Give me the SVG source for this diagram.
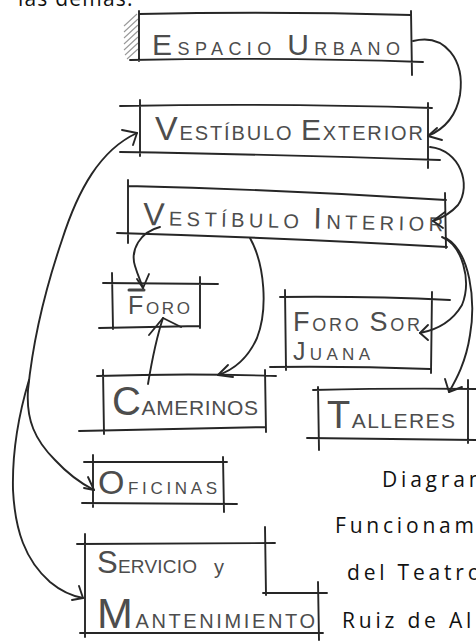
<svg xmlns="http://www.w3.org/2000/svg" width="476" height="642" viewBox="0 0 476 642">
<defs>
<style>
.ln{stroke:#262626;stroke-width:1.9;fill:none;stroke-linecap:round;stroke-linejoin:round}
.ar{stroke:#262626;stroke-width:1.9;fill:none;stroke-linecap:round;stroke-linejoin:round}
.ht{stroke:#9a9a9a;stroke-width:1.1;fill:none}
.hw{font-family:"Liberation Sans",Arial,sans-serif;fill:#4d4d4d}
.pr{font-family:"Open Sans","Noto Sans",sans-serif;font-size:21px;fill:#111111;letter-spacing:3.8px}
</style>
</defs>
<rect width="476" height="642" fill="#ffffff"/>
<text class="pr" x="18" y="6" style="letter-spacing:1.2px">las demás.</text>

<g id="espacio-urbano">
<path class="ht" d="M124,26 L137,14 M124,32 L138,19 M124,38 L138,25 M124,44 L138,31 M124,50 L138,37 M125,55 L138,43 M127,59 L138,49"/>
<path class="ln" d="M139,14 Q275,11 411,15 M130,60 Q280,57 423,62 M139,11 L139,61 M411,11 L412,75"/>
<text class="hw" x="152" y="55" textLength="248" lengthAdjust="spacing"><tspan font-size="30">E</tspan><tspan font-size="18">SPACIO </tspan><tspan font-size="30">U</tspan><tspan font-size="18">RBANO</tspan></text>
</g>

<g id="vestibulo-exterior">
<path class="ln" d="M120,106 Q280,103 432,108 M120,152 Q300,155 440,160 M140,100 L140,156 M428,103 L428,168"/>
<text class="hw" x="155" y="140" textLength="268" lengthAdjust="spacing"><tspan font-size="34">V</tspan><tspan font-size="20">ESTÍBULO </tspan><tspan font-size="30">E</tspan><tspan font-size="20">XTERIOR</tspan></text>
</g>

<g id="vestibulo-interior">
<path class="ln" d="M128,186 Q290,190 446,200 M117,233 Q290,238 447,247 M128,180 L128,243 M445,193 L446,248"/>
<text class="hw" x="143" y="225" textLength="300" lengthAdjust="spacing" transform="rotate(1.2 143 225)"><tspan font-size="32">V</tspan><tspan font-size="20">ESTÍBULO </tspan><tspan font-size="30">I</tspan><tspan font-size="20">NTERIOR</tspan></text>
</g>

<g id="foro">
<path class="ln" d="M103,283 L218,284 M112,273 L113,329 M200,277 L200,328 M99,328 L200,326"/>
<path d="M129,290 L144,290" stroke="#444" stroke-width="3" stroke-linecap="round"/>
<text class="hw" x="128" y="314" textLength="62" lengthAdjust="spacing"><tspan font-size="25">F</tspan><tspan font-size="17">ORO</tspan></text>
</g>

<g id="foro-sor-juana">
<path class="ln" d="M280,297 Q370,296 450,300 M270,367 Q350,366 430,369 M285,290 L286,370 M432,292 L431,373"/>
<text class="hw" x="293" y="331" textLength="127" lengthAdjust="spacing"><tspan font-size="27">F</tspan><tspan font-size="18">ORO </tspan><tspan font-size="27">S</tspan><tspan font-size="18">OR</tspan></text>
<text class="hw" x="293" y="360" textLength="77" lengthAdjust="spacing"><tspan font-size="25">J</tspan><tspan font-size="17">UANA</tspan></text>
</g>

<g id="camerinos">
<path class="ln" d="M97,376 Q190,373 276,376 M79,431 Q170,429 266,427 M103,370 L104,434 M265,370 L266,432"/>
<text class="hw" x="112" y="415" textLength="146" lengthAdjust="spacing"><tspan font-size="40">C</tspan><tspan font-size="21">AMERINOS</tspan></text>
</g>

<g id="talleres">
<path class="ln" d="M313,390 Q400,388 476,389 M307,438 Q400,439 476,440 M318,387 L319,450 M468,380 L468,443"/>
<text class="hw" x="327" y="428" textLength="128" lengthAdjust="spacing"><tspan font-size="38">T</tspan><tspan font-size="21">ALLERES</tspan></text>
</g>

<g id="oficinas">
<path class="ln" d="M84,462 L227,462 M82,503 L237,504 M93,455 L93,507 M223,457 L224,512"/>
<text class="hw" x="98" y="494" textLength="119" lengthAdjust="spacing"><tspan font-size="34">O</tspan><tspan font-size="17">FICINAS</tspan></text>
</g>

<g id="servicio-mantenimiento">
<path class="ln" d="M77,544 L275,543 M85,534 L85,637 M265,527 L266,595 M263,593 L327,593 M318,582 L319,640 M80,633 L323,633"/>
<text class="hw" x="97" y="573" textLength="100" lengthAdjust="spacing"><tspan font-size="31">S</tspan><tspan font-size="19">ERVICIO</tspan></text>
<text class="hw" x="214" y="574" font-size="20">y</text>
<text class="hw" x="97" y="628" textLength="218" lengthAdjust="spacing"><tspan font-size="43">M</tspan><tspan font-size="20">ANTENIMIENTO</tspan></text>
</g>

<text class="pr" x="382" y="487">Diagram</text>
<text class="pr" x="335" y="533">Funcionam</text>
<text class="pr" x="347" y="580">del Teatro</text>
<text class="pr" x="342" y="628">Ruiz de Al</text>

<g id="connectors">
<path class="ar" d="M413,41 C445,33 465,60 460,95 C456,118 442,130 428,136"/>
<path class="ar" d="M437,128 L428,136 L442,140"/>
<path class="ar" d="M430,147 C460,150 472,185 458,205 C450,214 442,218 433,221"/>
<path class="ar" d="M445,212 L433,221 L443,228"/>
<path class="ar" d="M442,237 C462,245 472,280 462,305 C452,322 436,330 420,333"/>
<path class="ar" d="M428,325 L420,333 L428,340"/>
<path class="ar" d="M446,238 C470,252 476,300 470,335 C466,362 456,380 449,392"/>
<path class="ar" d="M445,379 L449,392 L462,387"/>
<path class="ar" d="M160,227 C140,232 130,250 135,266 C138,276 141,282 143,288"/>
<path class="ar" d="M137,279 L143,288 L149,274"/>
<path class="ar" d="M250,238 C265,265 268,310 257,338 C247,360 233,370 218,375"/>
<path class="ar" d="M228,365 L218,375 L233,377"/>
<path class="ar" d="M148,384 C152,360 157,336 163,318"/>
<path class="ar" d="M149,335 L163,318 L181,327"/>
<path class="ar" d="M137,133 C100,150 78,190 62,240 C45,290 33,340 28,390 C26,420 35,440 55,460 C68,474 82,484 94,490"/>
<path class="ar" d="M122,130 L137,133 L133,145"/>
<path class="ar" d="M88,477 L94,490 L84,488"/>
<path class="ar" d="M29,380 C20,410 12,450 13,490 C15,530 25,560 50,582 C62,592 72,596 83,598"/>
<path class="ar" d="M79,586 L83,598 L72,600"/>
</g>
</svg>
